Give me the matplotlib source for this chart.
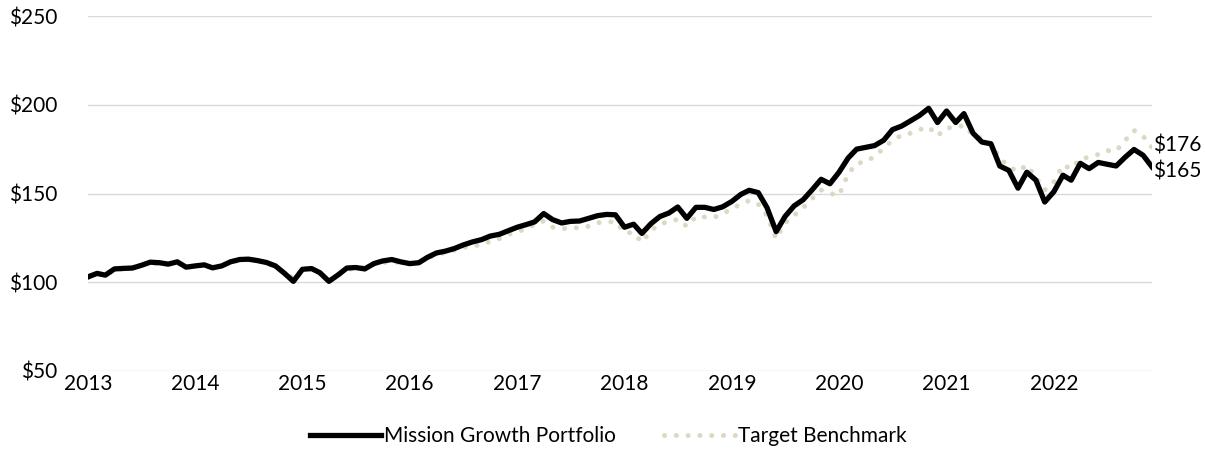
import matplotlib
matplotlib.use("Agg")
import matplotlib.pyplot as plt
import pandas as pd

plt.rcParams['font.family'] = ['Lato', 'DejaVu Sans']

# monthly growth of $100, Jan 2013 .. Dec 2022
portfolio = [
    103, 105, 104, 107.5, 107.8, 108, 109.5, 111.3, 111, 110.2, 111.5, 108.5,   # 2013
    109.2, 109.8, 108.1, 109.2, 111.5, 112.8, 113, 112.2, 111.1, 109.2, 105, 100.5,  # 2014
    107.3, 107.7, 105.4, 100.5, 104, 108, 108.3, 107.5, 110.5, 112, 112.8, 111.5,  # 2015
    110.5, 111, 114, 116.5, 117.5, 119, 121, 122.7, 124, 126, 127, 129,  # 2016
    131, 132.5, 134, 138.7, 135.3, 133.4, 134.3, 134.5, 136, 137.5, 138.2, 138,  # 2017
    131, 132.7, 127.5, 133, 137, 139, 142.4, 136, 142.2, 142.2, 141, 142.5,  # 2018
    145.5, 149.5, 151.8, 150.5, 142, 128.5, 137, 143, 146.5, 152, 158, 155.5,  # 2019
    162, 170, 175, 176, 177, 180, 186, 188, 191, 194, 198, 190,  # 2020
    196.5, 190, 195, 184, 179, 178, 165.5, 163, 153, 162, 157.5, 145.2,  # 2021
    151, 160.3, 157.5, 167, 164, 167.5, 166.5, 165.5, 170.5, 174.8, 171.5, 165,  # 2022
]
benchmark = [
    102.5, 104.5, 104, 106.5, 107.5, 108, 109.5, 111, 110, 110.5, 111, 108.5,
    109, 109.5, 108.5, 109, 111, 112.5, 112.5, 112, 110.5, 109, 105.5, 102,
    107, 107.5, 105.5, 101, 103.5, 107, 108, 108.5, 110, 111, 111.5, 111,
    110.5, 111.5, 113.5, 115.5, 116.7, 118, 119.5, 120.5, 121, 123, 124.5, 127,
    128.5, 130, 132.5, 134.5, 131, 130.2, 130.5, 130.8, 131.5, 133.5, 134, 134,
    128, 127.8, 122.5, 129, 133, 134, 135.5, 131.5, 137, 136.8, 136.5, 138.5,
    141.5, 144, 146, 144, 137.5, 124.5, 133.4, 137.7, 142, 147, 152, 150,
    149, 161, 167, 167.8, 171, 175.5, 180, 182.8, 184, 186, 187.5, 182.5,
    187, 187, 188.5, 183, 181, 178, 170, 165, 162.5, 166, 159, 152,
    156.5, 166, 164, 169.5, 170.5, 172, 174.2, 174, 180, 185.5, 182.3, 176,
]
dates = pd.date_range("2013-01-01", periods=len(portfolio), freq="MS")
years = list(range(2013, 2023))
yticks = [50, 100, 150, 200, 250]

fs = 15

fig = plt.figure(figsize=(12.05, 4.5), dpi=100)
ax = fig.add_axes([0.073, 0.1756, 0.883, 0.7888])

ax.plot(dates, benchmark, color="#DDD8C4", lw=3.6, linestyle=(0, (0.01, 2.35)),
        dash_capstyle="round", solid_capstyle="round", label="Target Benchmark", zorder=2)
ax.plot(dates, portfolio, color="black", lw=3.8, solid_joinstyle="round",
        label="Mission Growth Portfolio", zorder=3)

ax.set_xlim(dates[0], dates[-1])
ax.set_ylim(50, 250)
ax.set_yticks(yticks)
ax.set_yticklabels([f"${v}" for v in yticks])
ax.set_xticks([pd.Timestamp(f"{y}-01-01") for y in years])
ax.set_xticklabels([str(y) for y in years])
ax.tick_params(axis="both", length=0, labelsize=fs, colors="black")
ax.tick_params(axis="y", pad=22)
ax.tick_params(axis="x", pad=2)
ax.grid(axis="y", color="#D9D9D9", lw=1)
ax.set_axisbelow(True)
for s in ax.spines.values():
    s.set_visible(False)

ax.annotate(f"${benchmark[-1]:.0f}", xy=(dates[-1], benchmark[-1]), xytext=(1, 1),
            textcoords="offset points", va="center", ha="left", fontsize=fs, annotation_clip=False)
ax.annotate(f"${portfolio[-1]:.0f}", xy=(dates[-1], portfolio[-1]), xytext=(1, -3),
            textcoords="offset points", va="center", ha="left", fontsize=fs, annotation_clip=False)

h, l = ax.get_legend_handles_labels()
fig.legend(h[::-1], l[::-1], loc="center", bbox_to_anchor=(0.505, 0.03), ncol=2, frameon=False,
           fontsize=fs, handlelength=3.4, handletextpad=0.15, columnspacing=2.3)

fig.savefig("out.png", dpi=100)
